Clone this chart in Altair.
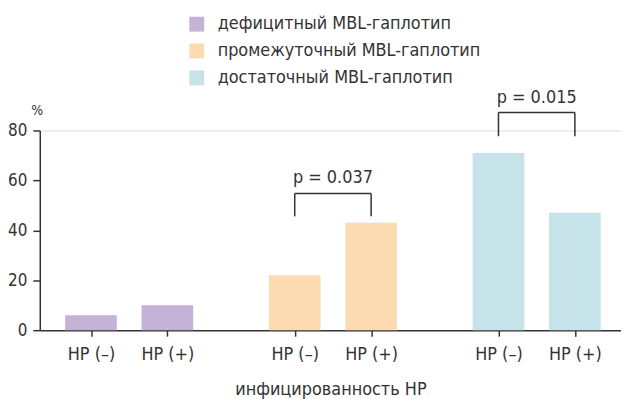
import altair as alt
import pandas as pd

# ---- data ----
haplotypes = ["дефицитный MBL-гаплотип", "промежуточный MBL-гаплотип", "достаточный MBL-гаплотип"]
hp_status = ["HP (–)", "HP (+)"]
deficient = [6, 10]
intermediate = [22, 43]
sufficient = [71, 47]
colors = ["#c5b3d7", "#fcdab2", "#c5e3e8"]

# significance brackets: group index, lower end, upper end, label height, label
br_group = [1, 2]
br_low = [45.6, 77.7]
br_top = [54.8, 87.2]
br_text_y = [61, 93]
br_label = ["p = 0.037", "p = 0.015"]

GROUP_STEP = 8 / 3  # layout: distance between group centres in units of within-group spacing
FONT = "DejaVu Sans Condensed"
TXT = "#333333"

values = [deficient, intermediate, sufficient]
rows = []
for gi, (h, vals) in enumerate(zip(haplotypes, values)):
    for hi, (s, v) in enumerate(zip(hp_status, vals)):
        rows.append({"hap": h, "hp": s, "pos": gi * GROUP_STEP + hi, "value": v})
df = pd.DataFrame(rows)

brows = []
for g, lo, top, ty, lab in zip(br_group, br_low, br_top, br_text_y, br_label):
    xl = g * GROUP_STEP
    xr = g * GROUP_STEP + 1
    brows.append({"xl": xl, "xr": xr, "xm": (xl + xr) / 2, "lo": lo, "top": top, "ty": ty, "label": lab})
bdf = pd.DataFrame(brows)

tick_vals = list(df["pos"])
tick_labels = list(df["hp"])
expr = "''"
for v, l in zip(reversed(tick_vals), reversed(tick_labels)):
    expr = f"abs(datum.value - {v:.4f}) < 0.01 ? '{l}' : ({expr})"

xscale = alt.Scale(domain=[-0.67, 6.937], nice=False, zero=False, padding=0)
yscale = alt.Scale(domain=[0, 80], nice=False, padding=0)

bars = alt.Chart(df).mark_bar(size=52).encode(
    x=alt.X("pos:Q", scale=xscale,
            axis=alt.Axis(values=tick_vals, labelExpr=expr, title="инфицированность HP",
                          grid=False, tickSize=6, labelPadding=10, titlePadding=17,
                          domainColor=TXT, tickColor=TXT, domainWidth=1.5, tickWidth=1.5,
                          labelFontSize=18, titleFontSize=18, labelColor=TXT, titleColor=TXT,
                          titleFontWeight="normal", labelFont=FONT, titleFont=FONT)),
    y=alt.Y("value:Q", scale=yscale,
            axis=alt.Axis(values=[0, 20, 40, 60, 80], title="%", grid=False, tickSize=7,
                          labelPadding=6, domainColor=TXT, tickColor=TXT, domainWidth=1.5,
                          tickWidth=1.5, labelFontSize=17, labelColor=TXT, titleColor=TXT,
                          titleFontSize=14, titleFontWeight="normal", titleAngle=0,
                          titleX=-3, titleY=-20, titleAlign="center", titleBaseline="middle",
                          labelFont=FONT, titleFont=FONT)),
    color=alt.Color("hap:N", scale=alt.Scale(domain=haplotypes, range=colors),
                    legend=alt.Legend(title=None, orient="none", legendX=149, legendY=-116,
                                      symbolType="square", symbolSize=225, symbolStrokeWidth=0,
                                      labelFontSize=18, labelFont=FONT, labelColor=TXT,
                                      labelLimit=0, labelOffset=12, rowPadding=9, padding=0)),
)

hline = alt.Chart(bdf).mark_rule(color=TXT, strokeWidth=1.5).encode(
    x=alt.X("xl:Q", scale=xscale), x2="xr:Q", y=alt.Y("top:Q", scale=yscale))
vl = alt.Chart(bdf).mark_rule(color=TXT, strokeWidth=1.5).encode(
    x=alt.X("xl:Q", scale=xscale), y=alt.Y("lo:Q", scale=yscale), y2="top:Q")
vr = alt.Chart(bdf).mark_rule(color=TXT, strokeWidth=1.5).encode(
    x=alt.X("xr:Q", scale=xscale), y=alt.Y("lo:Q", scale=yscale), y2="top:Q")
ptxt = alt.Chart(bdf).mark_text(fontSize=18, font=FONT, color=TXT, baseline="middle").encode(
    x=alt.X("xm:Q", scale=xscale), y=alt.Y("ty:Q", scale=yscale), text="label:N")

chart = alt.layer(bars, hline, vl, vr, ptxt).properties(
    width=585, height=201,
    autosize=alt.AutoSizeParams(type="none"),
    padding={"left": 32, "top": 122, "right": 0, "bottom": 68},
).configure_view(stroke=None).configure(background="white")

chart.save("out.html", embed_options={"renderer": "svg", "actions": False})
